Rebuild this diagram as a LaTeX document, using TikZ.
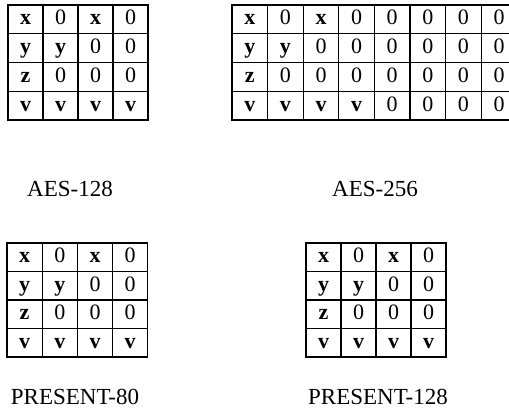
\documentclass[tikz,border=0pt]{standalone}
\usepackage{fontspec}
\setmainfont{Liberation Serif}
\tikzset{
  cell/.style={draw, line width=1.1pt, inner sep=0pt, outer sep=0pt, text height=15pt, text depth=4pt, font=\fontsize{22}{24}\selectfont},
  lab/.style={font=\fontsize{23}{25}\selectfont, inner sep=0pt, anchor=base}
}
\newcommand\drawgrid[6]{%
  \foreach[count=\r] \row in {{\textbf{x},0,\textbf{x},0,0,0,0,0},{\textbf{y},\textbf{y},0,0,0,0,0,0},{\textbf{z},0,0,0,0,0,0,0},{\textbf{v},\textbf{v},\textbf{v},\textbf{v},0,0,0,0}}{
    \foreach[count=\c] \v in \row {
      \ifnum\c>#6\relax\else
        \node[cell, minimum width=#4, minimum height=#5] (#1-\r-\c) at ({#2+(\c-0.5)*#4},{#3+(\r-0.5)*#5}) {\v};
      \fi
    }
  }
}
\begin{document}
\begin{tikzpicture}[x=1pt,y=-1pt]
\useasboundingbox (0,0) rectangle (509,411);
\clip (0,0) rectangle (509,411);
\fill[white] (0,0) rectangle (509,411);
\drawgrid{aa}{8}{5}{35}{28.75}{4}
\drawgrid{ab}{232}{5}{35.6}{28.75}{8}
\drawgrid{pa}{7}{243}{35.2}{28.5}{4}
\drawgrid{pb}{306}{243}{35}{28.5}{4}
\node[lab] (l1) at (70,197) {AES-128};
\node[lab] (l2) at (375,197) {AES-256};
\node[lab] (l3) at (75,405) {PRESENT-80};
\node[lab] (l4) at (378,405) {PRESENT-128};
\end{tikzpicture}
\end{document}
